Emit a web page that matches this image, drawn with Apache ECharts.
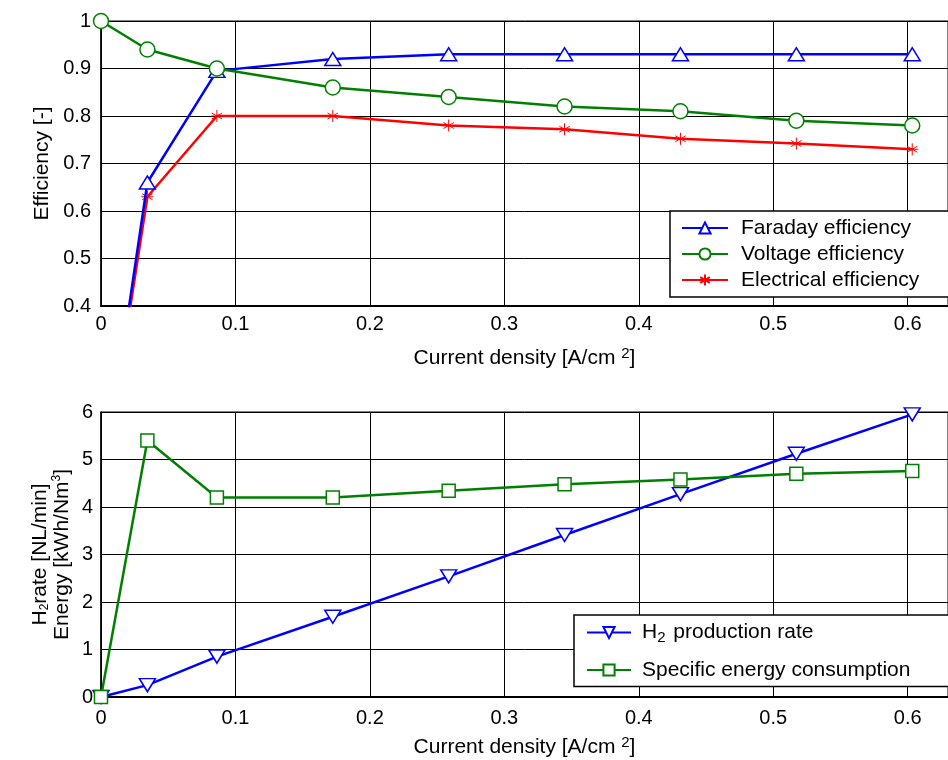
<!DOCTYPE html>
<html>
<head>
<meta charset="utf-8">
<script src="https://cdn.jsdelivr.net/npm/echarts@6/dist/echarts.min.js"></script>
<style>
html,body{margin:0;padding:0;background:#fff;}
#chart{width:948px;height:760px;}
</style>
</head>
<body>
<div id="chart"></div>
<script>
// Current density [A/cm2]
var currentDensity = [0, 0.0345, 0.0862, 0.1724, 0.2586, 0.3448, 0.4310, 0.5172, 0.6034];
// Efficiencies [-]
var faradayEff   = [0, 0.66, 0.895, 0.92, 0.93, 0.93, 0.93, 0.93, 0.93];
var voltageEff   = [1.0, 0.94, 0.90, 0.86, 0.84, 0.82, 0.81, 0.79, 0.78];
var electricalEff = [0, 0.63, 0.80, 0.80, 0.78, 0.772, 0.752, 0.742, 0.73];
// H2 production rate [NL/min] and specific energy consumption [kWh/Nm3]
var h2Rate       = [0, 0.25, 0.85, 1.69, 2.54, 3.41, 4.27, 5.12, 5.95];
var energyCons   = [0, 5.4, 4.2, 4.2, 4.34, 4.48, 4.58, 4.7, 4.76];
// tick settings
var xTicks = {min: 0, max: 0.63, interval: 0.1};
var effTicks = {min: 0.4, max: 1.0, interval: 0.1};
var rateTicks = {min: 0, max: 6, interval: 1};

function pairs(xs, ys) { return xs.map(function (x, i) { return [x, ys[i]]; }); }

var FONT = 'Liberation Sans, Arial, sans-serif';
var BLUE = '#0000ff', GREEN = '#008000', RED = '#ff0000';
var asterisk = 'path://M0,-10L0,10M-8.66,-5L8.66,5M-8.66,5L8.66,-5M-10,0L10,0';
var TICK_FS = 20, NAME_FS = 21;

function xAxisCfg(gridIndex, nameGap, labelMargin) {
  return {
    type: 'value', gridIndex: gridIndex,
    min: xTicks.min, max: xTicks.max, interval: xTicks.interval,
    name: '{t|Current density [A/cm }{s|2}{t|]}',
    nameLocation: 'middle', nameGap: nameGap,
    nameTextStyle: {rich: {
      t: {fontFamily: FONT, fontSize: NAME_FS, color: '#000'},
      s: {fontFamily: FONT, fontSize: 15, color: '#000', verticalAlign: 'top', padding: [0, 0, 9, 0]}
    }},
    axisLine: {show: true, onZero: false, lineStyle: {color: '#000', width: 2}},
    axisTick: {show: false},
    axisLabel: {color: '#000', fontFamily: FONT, fontSize: TICK_FS, margin: labelMargin, showMaxLabel: false,
      formatter: function (v) { return v === 0 ? '0' : String(+v.toFixed(1)); }},
    splitLine: {show: true, lineStyle: {color: '#000', width: 1}}
  };
}

var option = {
  backgroundColor: '#fff',
  animation: false,
  grid: [
    {left: 101, top: 21, right: -10, height: 285, show: true, borderColor: '#000', borderWidth: 1, backgroundColor: '#fff'},
    {left: 101, top: 412, right: -10, height: 285, show: true, borderColor: '#000', borderWidth: 1, backgroundColor: '#fff'}
  ],
  xAxis: [xAxisCfg(0, 40, 8), xAxisCfg(1, 38, 11)],
  yAxis: [
    {
      type: 'value', gridIndex: 0, min: effTicks.min, max: effTicks.max, interval: effTicks.interval,
      name: 'Efficiency [-]', nameLocation: 'middle', nameGap: 48, nameRotate: 90,
      nameTextStyle: {fontFamily: FONT, fontSize: NAME_FS, color: '#000'},
      axisLine: {show: true, lineStyle: {color: '#000', width: 1.5}},
      axisTick: {show: false},
      axisLabel: {color: '#000', fontFamily: FONT, fontSize: TICK_FS, margin: 10,
        formatter: function (v) { return v === 1 ? '1' : v.toFixed(1); }},
      splitLine: {show: true, lineStyle: {color: '#000', width: 1}}
    },
    {
      type: 'value', gridIndex: 1, min: rateTicks.min, max: rateTicks.max, interval: rateTicks.interval,
      name: '{t|H}{b|2}{t|rate [NL/min]}\n{t|Energy [kWh/Nm}{p|3}{t|]}',
      nameLocation: 'middle', nameGap: 28, nameRotate: 90, nameMoveOverlap: false,
      nameTextStyle: {align: 'center', rich: {
        t: {fontFamily: FONT, fontSize: NAME_FS, color: '#000', lineHeight: 22},
        b: {fontFamily: FONT, fontSize: 12, color: '#000', verticalAlign: 'bottom', lineHeight: 22},
        p: {fontFamily: FONT, fontSize: 12, color: '#000', verticalAlign: 'top', lineHeight: 22}
      }},
      axisLine: {show: true, lineStyle: {color: '#000', width: 1.5}},
      axisTick: {show: false},
      axisLabel: {color: '#000', fontFamily: FONT, fontSize: TICK_FS, margin: 8},
      splitLine: {show: true, lineStyle: {color: '#000', width: 1}}
    }
  ],
  legend: [
    {
      left: 670, top: 211, orient: 'vertical',
      data: ['Faraday efficiency', 'Voltage efficiency', 'Electrical efficiency'],
      backgroundColor: '#fff', borderColor: '#000', borderWidth: 1.5,
      padding: [5, 80, 5, 11], itemGap: 2, itemWidth: 46, itemHeight: 14,
      textStyle: {fontFamily: FONT, fontSize: NAME_FS, color: '#000', lineHeight: 24, padding: [0, 0, 0, 8]}
    },
    {
      left: 574, top: 615, orient: 'vertical',
      data: ['H2 production rate', 'Specific energy consumption'],
      backgroundColor: '#fff', borderColor: '#000', borderWidth: 1.5,
      padding: [7, 80, 6, 12], itemGap: 14, itemWidth: 44, itemHeight: 14,
      formatter: function (name) {
        return name === 'H2 production rate' ? '{t|H}{b|2}{t| production rate}' : '{t|' + name + '}';
      },
      textStyle: {padding: [0, 0, 0, 6], rich: {
        t: {fontFamily: FONT, fontSize: NAME_FS, color: '#000', lineHeight: 26},
        b: {fontFamily: FONT, fontSize: 15, color: '#000', verticalAlign: 'bottom', lineHeight: 26, padding: [0, 2, 0, 0]}
      }}
    }
  ],
  series: [
    {
      name: 'Faraday efficiency', type: 'line', xAxisIndex: 0, yAxisIndex: 0,
      data: pairs(currentDensity, faradayEff), clip: true,
      symbol: 'triangle', symbolSize: [16, 13],
      lineStyle: {color: BLUE, width: 2.5}, itemStyle: {color: '#fff', borderColor: BLUE, borderWidth: 1.5},
      z: 3
    },
    {
      name: 'Voltage efficiency', type: 'line', xAxisIndex: 0, yAxisIndex: 0,
      data: pairs(currentDensity, voltageEff), clip: false,
      symbol: 'circle', symbolSize: 15,
      lineStyle: {color: GREEN, width: 2.5}, itemStyle: {color: '#fff', borderColor: GREEN, borderWidth: 1.5},
      z: 4
    },
    {
      name: 'Electrical efficiency', type: 'line', xAxisIndex: 0, yAxisIndex: 0,
      data: pairs(currentDensity, electricalEff), clip: true,
      symbol: asterisk, symbolSize: 12,
      lineStyle: {color: RED, width: 2.5}, itemStyle: {color: 'none', borderColor: RED, borderWidth: 1},
      z: 2
    },
    {
      name: 'H2 production rate', type: 'line', xAxisIndex: 1, yAxisIndex: 1,
      data: pairs(currentDensity, h2Rate), clip: false,
      symbol: 'triangle', symbolRotate: 180, symbolSize: [16, 13],
      lineStyle: {color: BLUE, width: 2.5}, itemStyle: {color: '#fff', borderColor: BLUE, borderWidth: 1.5},
      z: 3
    },
    {
      name: 'Specific energy consumption', type: 'line', xAxisIndex: 1, yAxisIndex: 1,
      data: pairs(currentDensity, energyCons), clip: false,
      symbol: 'rect', symbolSize: 13,
      lineStyle: {color: GREEN, width: 2.5}, itemStyle: {color: '#fff', borderColor: GREEN, borderWidth: 1.5},
      z: 4
    }
  ]
};

var chart = echarts.init(document.getElementById('chart'), null, {renderer: 'canvas'});
chart.setOption(option);
</script>
</body>
</html>
